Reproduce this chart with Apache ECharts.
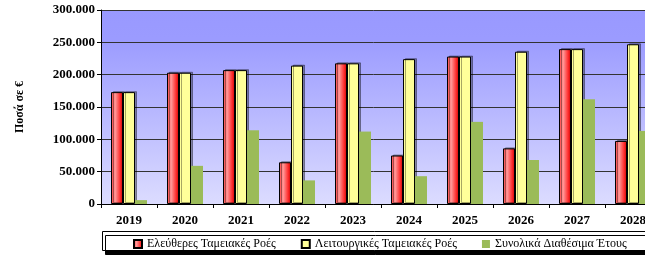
<!DOCTYPE html>
<html>
<head>
<meta charset="utf-8">
<script src="https://cdn.jsdelivr.net/npm/echarts@6/dist/echarts.min.js"></script>
<style>
    html, body { margin: 0; padding: 0; background: #fff; }
    #chart { width: 645px; height: 255px; }
</style>
</head>
<body>
<div id="chart"></div>
<script>
var years = ['2019', '2020', '2021', '2022', '2023', '2024', '2025', '2026', '2027', '2028'];
var seriesNames = ['Ελεύθερες Ταμειακές Ροές', 'Λειτουργικές Ταμειακές Ροές', 'Συνολικά Διαθέσιμα Έτους'];
var freeCash = [173000, 203000, 207000, 64500, 217500, 75000, 228000, 86000, 239500, 97500];
var operCash = [173000, 203000, 207000, 214000, 217500, 224000, 228000, 235500, 239500, 247000];
var available = [6000, 59000, 114000, 36500, 112000, 43000, 127000, 68000, 162000, 113000];

var serif = '"Liberation Serif", "DejaVu Serif", serif';

function fmt(v) {
    // 250000 -> 250.000
    return String(v).replace(/\B(?=(\d{3})+(?!\d))/g, '.');
}

var chart = echarts.init(document.getElementById('chart'));

var redFill = new echarts.graphic.LinearGradient(0, 0, 1, 0, [
    { offset: 0, color: '#ff3a3a' },
    { offset: 0.35, color: '#ff9a9a' },
    { offset: 0.75, color: '#ff3030' },
    { offset: 1, color: '#cc0000' }
]);

var option = {
    animation: false,
    grid: {
        left: 101,
        top: 10,
        width: 560,   // plot runs past the right edge, like the original
        bottom: 51,
        outerBoundsMode: 'none',
        show: true,
        borderWidth: 0,
        backgroundColor: new echarts.graphic.LinearGradient(0, 0, 0, 1, [
            { offset: 0, color: '#9999ff' },
            { offset: 0.15, color: '#9b9bff' },
            { offset: 1, color: '#dcdcff' }
        ])
    },
    graphic: [{
        type: 'rect',
        left: 102,
        top: 231,
        shape: { width: 560, height: 19 },
        style: {
            fill: '#fff',
            stroke: '#000',
            lineWidth: 1,
            shadowColor: '#000',
            shadowOffsetX: 3,
            shadowOffsetY: 4
        },
        z: -1
    }],
    legend: {
        top: 233,
        left: 128,
        itemGap: 25,
        itemWidth: 8,
        itemHeight: 8,
        icon: 'rect',
        textStyle: { fontFamily: serif, fontSize: 12, color: '#000' },
        data: seriesNames
    },
    xAxis: {
        type: 'category',
        data: years,
        axisLine: { lineStyle: { color: '#000', width: 1 } },
        axisTick: { show: true, length: 4, lineStyle: { color: '#000' } },
        axisLabel: {
            fontFamily: serif, fontWeight: 'bold', fontSize: 13, color: '#000', margin: 10
        }
    },
    yAxis: {
        type: 'value',
        min: 0,
        max: 300000,
        interval: 50000,
        name: 'Ποσά σε €',
        nameLocation: 'middle',
        nameGap: 75,
        nameRotate: 90,
        nameTextStyle: { fontFamily: serif, fontWeight: 'bold', fontSize: 12, color: '#000' },
        axisLine: { show: true, lineStyle: { color: '#000' } },
        axisTick: { show: true, length: 4, lineStyle: { color: '#000' } },
        axisLabel: {
            fontFamily: serif, fontWeight: 'bold', fontSize: 13, color: '#000', margin: 6,
            formatter: fmt
        },
        splitLine: { lineStyle: { color: '#333', width: 1 } }
    },
    series: [
        {
            name: seriesNames[0],
            type: 'bar',
            barWidth: 12,
            barGap: 0,
            data: freeCash,
            itemStyle: {
                color: redFill,
                borderColor: '#000',
                borderWidth: 1,
                shadowColor: 'rgba(0,0,0,0.35)',
                shadowOffsetX: 2,
                shadowOffsetY: -1
            }
        },
        {
            name: seriesNames[1],
            type: 'bar',
            barWidth: 12,
            barGap: 0,
            data: operCash,
            itemStyle: {
                color: '#ffff99',
                borderColor: '#000',
                borderWidth: 1,
                shadowColor: 'rgba(0,0,0,0.35)',
                shadowOffsetX: 2,
                shadowOffsetY: -1
            }
        },
        {
            name: seriesNames[2],
            type: 'bar',
            barWidth: 12,
            barGap: 0,
            data: available,
            itemStyle: { color: '#9bbb59' }
        }
    ]
};
chart.setOption(option);
</script>
</body>
</html>
